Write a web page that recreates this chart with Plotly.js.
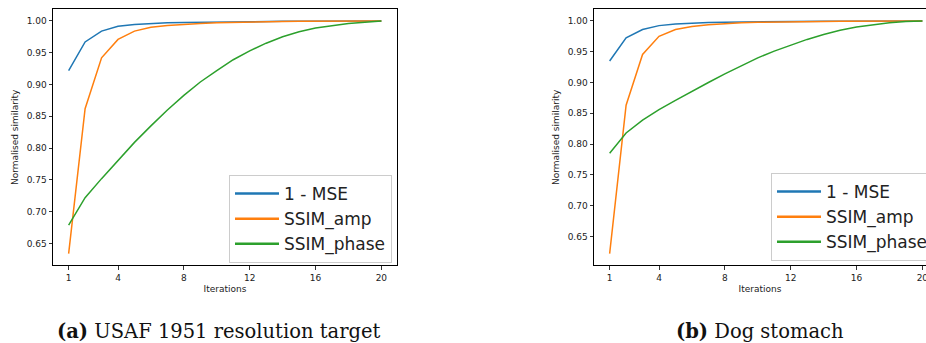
<!DOCTYPE html>
<html>
<head>
<meta charset="utf-8">
<script src="https://cdn.plot.ly/plotly-3.0.1.min.js"></script>
<style>
  html, body { margin: 0; padding: 0; background: #ffffff; overflow: hidden; }
  #chart { width: 926px; height: 343px; }
</style>
</head>
<body>
<div id="chart"></div>
<script>
// ---- data ----
const iterations = [1,2,3,4,5,6,7,8,9,10,11,12,13,14,15,16,17,18,19,20];
const xTickVals = [1, 4, 8, 12, 16, 20];
const yTickVals = [0.65, 0.70, 0.75, 0.80, 0.85, 0.90, 0.95, 1.00];
const seriesNames = ["1 - MSE", "SSIM_amp", "SSIM_phase"];

// (a) USAF 1951 resolution target
const usafMse   = [0.922,0.967,0.984,0.9915,0.9945,0.996,0.997,0.9975,0.998,0.9985,0.9988,0.999,0.9992,0.9994,0.9995,0.9996,0.9997,0.9998,0.9999,1.000];
const usafAmp   = [0.634,0.862,0.942,0.971,0.984,0.990,0.993,0.995,0.996,0.997,0.9978,0.9984,0.9988,0.9991,0.9994,0.9996,0.9997,0.9998,0.9999,1.000];
const usafPhase = [0.679,0.722,0.752,0.781,0.809,0.835,0.860,0.883,0.904,0.922,0.939,0.953,0.965,0.975,0.983,0.989,0.993,0.996,0.998,1.000];

// (b) Dog stomach
const dogMse   = [0.935,0.9725,0.986,0.9924,0.995,0.9965,0.9973,0.998,0.9984,0.9987,0.999,0.9992,0.9993,0.9995,0.9996,0.9997,0.9998,0.9998,0.9999,1.000];
const dogAmp   = [0.622,0.863,0.9455,0.975,0.986,0.991,0.994,0.996,0.997,0.9977,0.9983,0.9987,0.999,0.9992,0.9994,0.9996,0.9997,0.9998,0.9999,1.000];
const dogPhase = [0.785,0.818,0.839,0.856,0.871,0.886,0.900,0.914,0.927,0.940,0.951,0.961,0.970,0.978,0.985,0.990,0.994,0.997,0.999,1.000];

const captions = ["<b>(a)</b> USAF 1951 resolution target", "<b>(b)</b> Dog stomach"];
const xTitle = "Iterations";
const yTitle = "Normalised similarity";

// ---- styling ----
const colors = ["#1f77b4", "#ff7f0e", "#2ca02c"];
const W = 926, H = 343;
const tickFont = {family: "DejaVu Sans", size: 9, color: "#222"};
const titleFont = {family: "DejaVu Sans", size: 9, color: "#222"};

function padRange(arrs) {
  let lo = Infinity, hi = -Infinity;
  arrs.forEach(a => a.forEach(v => { lo = Math.min(lo, v); hi = Math.max(hi, v); }));
  const m = (hi - lo) * 0.05;
  return [lo - m, hi + m];
}

const leftSeries = [usafMse, usafAmp, usafPhase];
const rightSeries = [dogMse, dogAmp, dogPhase];

const traces = [];
leftSeries.forEach((ys, i) => traces.push({
  x: iterations, y: ys, type: "scatter", mode: "lines", name: seriesNames[i],
  line: {color: colors[i], width: 1.5}, xaxis: "x", yaxis: "y", showlegend: false
}));
rightSeries.forEach((ys, i) => traces.push({
  x: iterations, y: ys, type: "scatter", mode: "lines", name: seriesNames[i],
  line: {color: colors[i], width: 1.5}, xaxis: "x2", yaxis: "y2", showlegend: false
}));
// legend entries (thicker key lines, as in the reference legend); they draw no data marks
[["legend", "x", "y"], ["legend2", "x2", "y2"]].forEach(([lg, xa, ya]) => {
  seriesNames.forEach((nm, i) => traces.push({
    x: [null], y: [null], type: "scatter", mode: "lines", name: nm,
    line: {color: colors[i], width: 2.5}, xaxis: xa, yaxis: ya,
    legend: lg, showlegend: true, hoverinfo: "skip"
  }));
});

const yDom = [1 - 265.3 / H, 1 - 9.3 / H];
const pxPerUnit = 344 / 20.9;

function xAxis(domain, range, anchor, mirror) {
  return {
    domain: domain, range: range, anchor: anchor,
    tickmode: "array", tickvals: xTickVals, ticktext: xTickVals.map(String),
    ticks: "outside", ticklen: 3.5, tickwidth: 0.8, tickcolor: "#000",
    showline: true, linecolor: "#000", linewidth: 1, mirror: mirror,
    showgrid: false, zeroline: false, tickfont: tickFont,
    ticklabeloverflow: "allow",
    title: {text: xTitle, font: titleFont, standoff: 4}
  };
}
function yAxis(range, anchor, mirror) {
  return {
    domain: yDom, range: range, anchor: anchor,
    tickmode: "array", tickvals: yTickVals, ticktext: yTickVals.map(v => v.toFixed(2)),
    ticks: "outside", ticklen: 3.5, tickwidth: 0.8, tickcolor: "#000",
    showline: true, linecolor: "#000", linewidth: 1, mirror: mirror,
    showgrid: false, zeroline: false, tickfont: tickFont,
    title: {text: yTitle, font: titleFont, standoff: 6}
  };
}

const legendStyle = {
  font: {family: "DejaVu Sans", size: 17, color: "#222"},
  bgcolor: "rgba(255,255,255,0.8)", bordercolor: "#cccccc", borderwidth: 1,
  xanchor: "left", yanchor: "top", itemwidth: 44, tracegroupgap: 0
};

const layout = {
  width: W, height: H,
  margin: {l: 0, r: 0, t: 0, b: 0, autoexpand: false},
  paper_bgcolor: "#ffffff", plot_bgcolor: "#ffffff",
  showlegend: true,
  xaxis: xAxis([53 / W, 397 / W], [0.05, 20.95], "y", true),
  yaxis: yAxis(padRange(leftSeries), "x", true),
  xaxis2: xAxis([594 / W, 1], [0.05, 0.05 + 332 / pxPerUnit], "y2", true),
  yaxis2: yAxis(padRange(rightSeries), "x2", false),
  legend: Object.assign({x: 229 / W, y: 1 - 175 / H}, legendStyle),
  legend2: Object.assign({x: 771 / W, y: 1 - 173 / H}, legendStyle),
  annotations: [
    {text: captions[0], xref: "paper", yref: "paper", x: 219 / W, y: 1 - 331 / H,
     xanchor: "center", yanchor: "middle", showarrow: false,
     font: {family: "DejaVu Serif", size: 19.5, color: "#111"}},
    {text: captions[1], xref: "paper", yref: "paper", x: 760 / W, y: 1 - 331 / H,
     xanchor: "center", yanchor: "middle", showarrow: false,
     font: {family: "DejaVu Serif", size: 19.5, color: "#111"}}
  ]
};

Plotly.newPlot("chart", traces, layout, {staticPlot: true, displayModeBar: false});
</script>
</body>
</html>
